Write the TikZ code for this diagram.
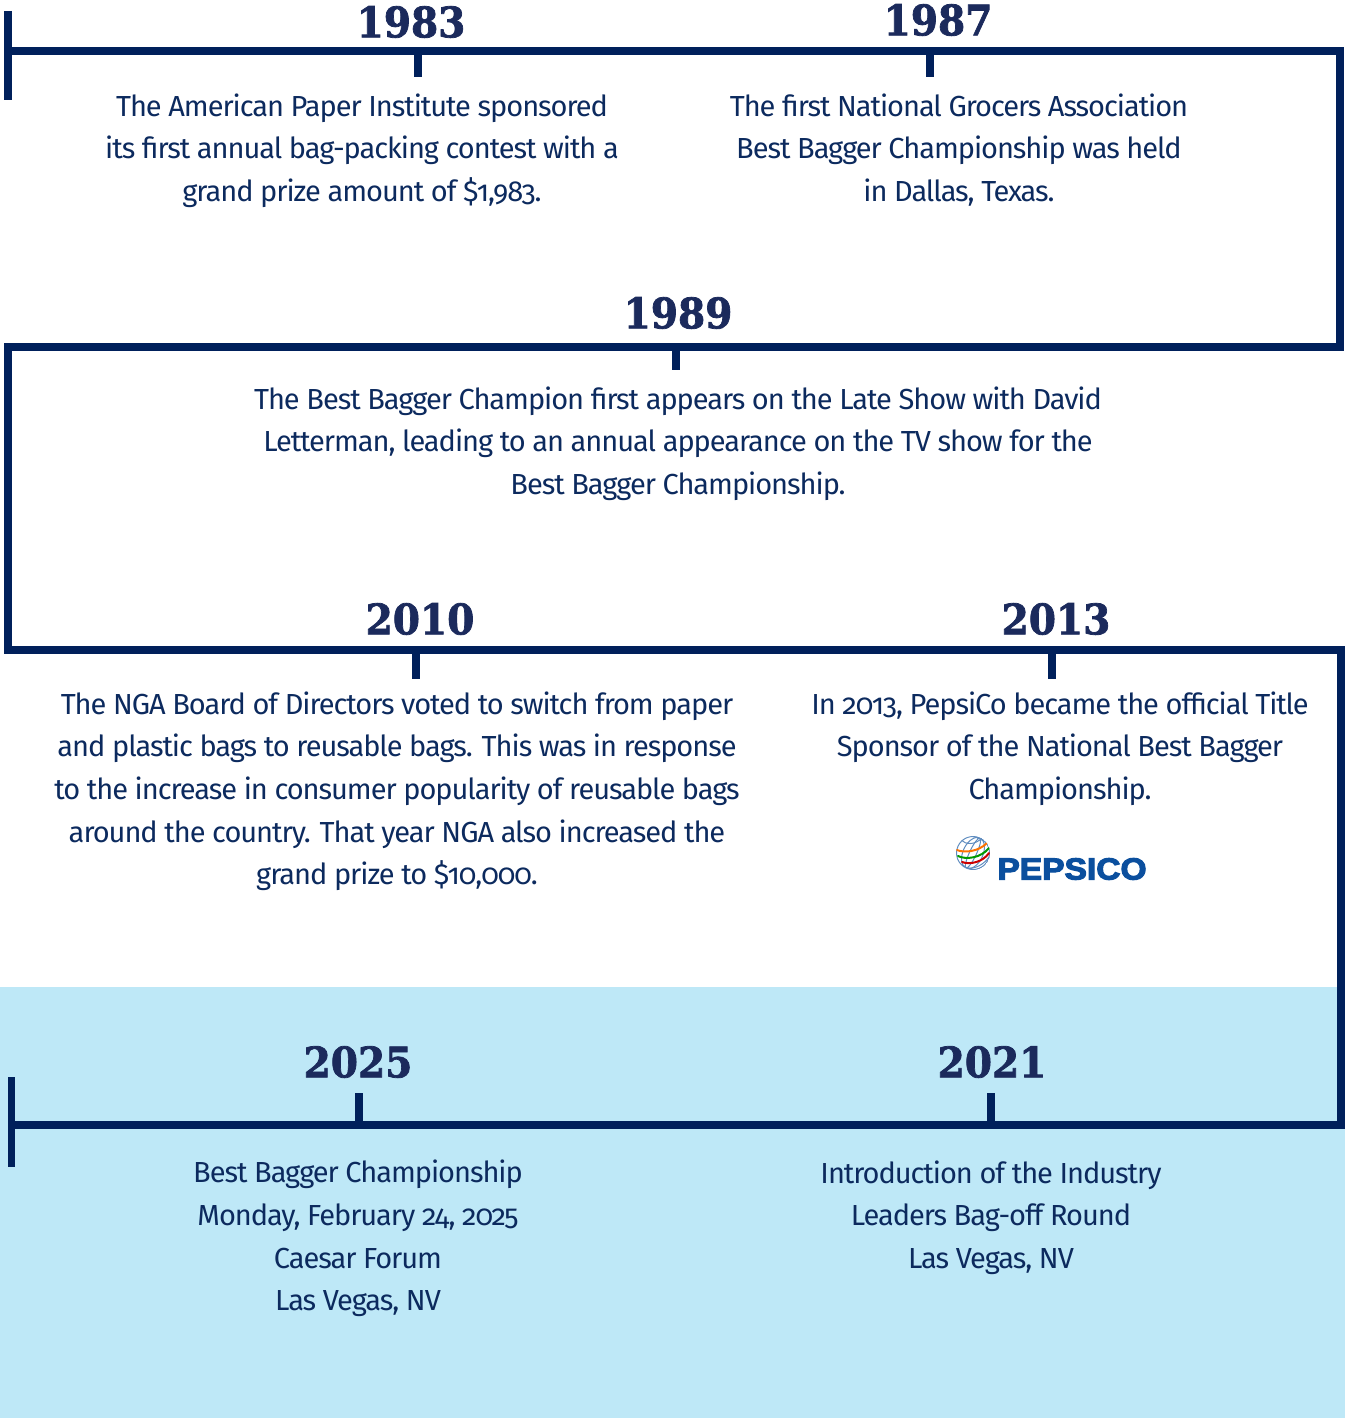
\documentclass[tikz,border=0pt]{standalone}
\usepackage{fontspec}
\setmainfont[Numbers=OldStyle,LetterSpace=-3.6]{Fira Sans}
\newfontfamily\yearfont[FakeBold=1.8]{DejaVu Serif Bold}
\newfontfamily\logofont[FakeBold=3.5]{Liberation Sans Bold}
\definecolor{linec}{HTML}{00205B}
\definecolor{textc}{HTML}{0C2A5E}
\definecolor{yearc}{HTML}{1B2A5C}
\definecolor{skyc}{HTML}{BEE8F7}
\definecolor{pepc}{HTML}{0B4F9E}
\tikzset{
  tl/.style={draw=linec,line width=7.7pt},
  tickm/.style={draw=linec,line width=7.7pt},
  yearlab/.style={text=yearc,font=\yearfont\fontsize{42}{42}\selectfont,inner sep=0pt,anchor=center,xscale=.93},
  body/.style={text=textc,font=\fontsize{29}{42.6}\selectfont,align=center,inner sep=0pt,anchor=center},
  globeline/.style={draw=pepc!65!white,line width=1pt},
  globeband/.style={line width=2pt,line cap=round},
}
\begin{document}
\begin{tikzpicture}[x=1pt,y=-1pt]
\useasboundingbox (0,0) rectangle (1345,1418);
\fill[skyc] (0,987) rectangle (1345,1418);
% timeline
\coordinate (s) at (8,51);
\coordinate (a) at (1340,51);
\coordinate (b) at (1340,347);
\coordinate (c) at (8,347);
\coordinate (d) at (8,650);
\coordinate (e) at (1341,650);
\coordinate (f) at (1341,1125);
\coordinate (g) at (12,1125);
\draw[tl,line join=miter] (s)--(a)--(b)--(c)--(d)--(e)--(f)--(g);
\coordinate (s1) at (8,11); \coordinate (s2) at (8,100);
\draw[tickm] (s1)--(s2);
\coordinate (g1) at (11.5,1077); \coordinate (g2) at (11.5,1167);
\draw[tickm] (g1)--(g2);
\foreach \n/\x/\ya/\yb in {A/418/51/77,B/930/51/77,C/676/347/370,D/416/650/679,E/1052/650/679,F/359/1093/1125,G/991/1093/1125}{
  \coordinate (\n1) at (\x,\ya); \coordinate (\n2) at (\x,\yb);
  \draw[tickm] (\n1)--(\n2);
}
% years
\node[yearlab] (y83) at (411,22) {1983};
\node[yearlab] (y87) at (938,20) {1987};
\node[yearlab] (y89) at (678,313) {1989};
\node[yearlab] (y10) at (420,619) {2010};
\node[yearlab] (y13) at (1056,619) {2013};
\node[yearlab] (y25) at (358,1062) {2025};
\node[yearlab] (y21) at (992,1062) {2021};
% text
\node[body] (t83) at (362,150.4) {The American Paper Institute sponsored\\its first annual bag-packing contest with a\\grand prize amount of \$1,983.};
\node[body] (t87) at (959,150) {The first National Grocers Association\\Best Bagger Championship was held\\in Dallas, Texas.};
\node[body] (t89) at (678,443.5) {The Best Bagger Champion first appears on the Late Show with David\\Letterman, leading to an annual appearance on the TV show for the\\Best Bagger Championship.};
\node[body] (t10) at (397,791.3) {The NGA Board of Directors voted to switch from paper\\and plastic bags to reusable bags. This was in response\\to the increase in consumer popularity of reusable bags\\around the country. That year NGA also increased the\\grand prize to \$10,000.};
\node[body] (t13) at (1060,748.5) {In 2013, PepsiCo became the official Title\\Sponsor of the National Best Bagger\\Championship.};
\node[body] (t25) at (358,1238.5) {Best Bagger Championship\\Monday, February 24, 2025\\Caesar Forum\\Las Vegas, NV};
\node[body] (t21) at (991,1217.5) {Introduction of the Industry\\Leaders Bag-off Round\\Las Vegas, NV};
% logo: globe
\coordinate (gc) at (973,853);
\begin{scope}
\clip (gc) circle (17);
\draw[globeline,rotate around={-25:(gc)}] (gc) ellipse (16.5 and 16.5) (gc) ellipse (10 and 16.5) (gc) ellipse (3.5 and 16.5);
\draw[globeline] (961,840) .. controls (966,845) and (975,845) .. (982,838);
\draw[globeline] (968,868) .. controls (976,869) and (984,864) .. (989,857);
\draw[globeband,orange!90!red] (957,850) .. controls (964,853) and (978,852) .. (987,843);
\draw[globeband,green!60!black] (958,856) .. controls (966,860) and (981,858) .. (989,848);
\draw[globeband,red!80!black] (962,862) .. controls (970,865) and (983,862) .. (989,853);
\end{scope}
\node[text=pepc,font=\logofont\fontsize{30.5}{30.5}\selectfont,inner sep=0pt,xscale=1.1] (pep) at (1072,869) {PEPSICO};
\end{tikzpicture}
\end{document}
